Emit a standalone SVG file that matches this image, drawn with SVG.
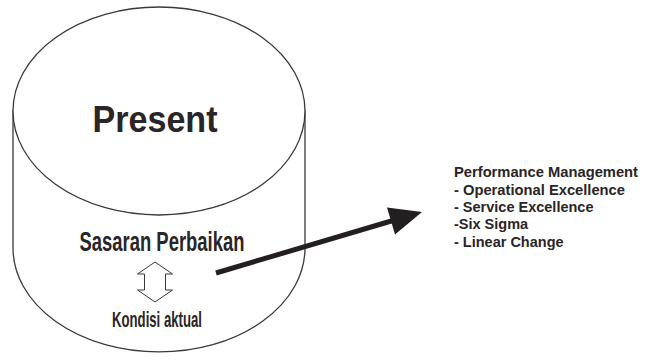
<svg xmlns="http://www.w3.org/2000/svg" width="646" height="362" viewBox="0 0 646 362">
  <style>
    .shape { fill: #ffffff; stroke: #3a3a3a; stroke-width: 1.3; }
    .txt { font-family: "Liberation Sans", Arial, sans-serif; font-weight: bold; fill: #2a2526; }
    .dbl { fill: #ffffff; stroke: #3a3a3a; stroke-width: 1; }
  </style>
  <rect width="646" height="362" fill="#ffffff"/>
  <g id="cylinder">
    <path class="shape" d="M13,111 L13,248 A146,104 0 0 0 305,248 L305,111 Z"/>
    <ellipse class="shape" cx="159" cy="111" rx="146" ry="104"/>
    <text class="txt" x="155" y="132" font-size="37" text-anchor="middle" textLength="125" lengthAdjust="spacingAndGlyphs">Present</text>
    <text class="txt" x="162" y="251" font-size="27.5" text-anchor="middle" textLength="165" lengthAdjust="spacingAndGlyphs">Sasaran Perbaikan</text>
    <path class="dbl" d="M155,262 L172.5,274 L165.5,274 L165.5,290 L172.5,290 L155,302 L137.5,290 L144.5,290 L144.5,274 L137.5,274 Z"/>
    <text class="txt" x="157" y="327" font-size="22" text-anchor="middle" textLength="90" lengthAdjust="spacingAndGlyphs">Kondisi aktual</text>
  </g>
  <g id="list">
    <text class="txt" font-size="14.5">
      <tspan x="454" y="177" textLength="184" lengthAdjust="spacingAndGlyphs">Performance Management</tspan>
      <tspan x="454" y="195" textLength="171" lengthAdjust="spacingAndGlyphs">- Operational Excellence</tspan>
      <tspan x="454" y="212">- Service Excellence</tspan>
      <tspan x="454" y="229">-Six Sigma</tspan>
      <tspan x="454" y="247">- Linear Change</tspan>
    </text>
  </g>
  <g id="connectors">
    <line x1="216" y1="273" x2="393" y2="220.5" stroke="#231f20" stroke-width="5"/>
    <polygon points="422,212 387,207.6 395,234.5" fill="#231f20"/>
  </g>
</svg>
